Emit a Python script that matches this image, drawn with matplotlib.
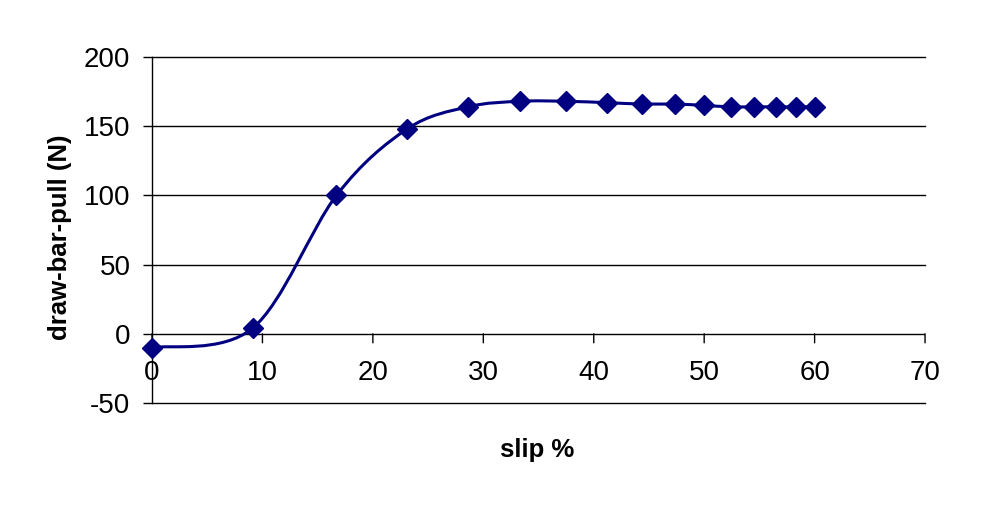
import numpy as np
import matplotlib
matplotlib.use("Agg")
import matplotlib.pyplot as plt
from matplotlib.path import Path
from matplotlib.patches import PathPatch

slip = [0, 9.1, 16.7, 23.1, 28.6, 33.3, 37.5, 41.2, 44.4, 47.4, 50.0, 52.4, 54.5, 56.5, 58.3, 60.0]
pull = [-10, 4, 100, 148, 164, 168, 168, 167, 166, 166, 165, 164, 164, 164, 164, 164]
xticks = [0, 10, 20, 30, 40, 50, 60, 70]
yticks = [-50, 0, 50, 100, 150, 200]

plt.rcParams['font.family'] = ['Liberation Sans', 'DejaVu Sans']
color = '#000080'
fs = 20

fig = plt.figure(figsize=(9.82, 5.09), dpi=100)
ax = fig.add_axes([0.1548, 0.2083, 0.942 - 0.1548, 0.888 - 0.2083])
ax.set_xlim(0, 70)
ax.set_ylim(-50, 200)

# Excel-style smoothed line (Catmull-Rom Bezier)
P = np.column_stack([slip, pull]).astype(float)
n = len(P)
verts = [tuple(P[0])]
codes = [Path.MOVETO]
for i in range(n - 1):
    p0 = P[i - 1] if i > 0 else P[i]
    p1 = P[i]
    p2 = P[i + 1]
    p3 = P[i + 2] if i + 2 < n else P[i + 1]
    c1 = p1 + (p2 - p0) / 6.0
    c2 = p2 - (p3 - p1) / 6.0
    verts += [tuple(c1), tuple(c2), tuple(p2)]
    codes += [Path.CURVE4] * 3
ax.add_patch(PathPatch(Path(verts, codes), facecolor='none', edgecolor=color, lw=2.2, zorder=3))
ax.plot(slip, pull, linestyle='none', marker='D', markersize=10, color=color, zorder=4, clip_on=False)

# gridlines
for yv in yticks:
    if yv != 0:
        ax.axhline(yv, color='black', lw=1.0, zorder=1, clip_on=False)

for s in ['top', 'right', 'bottom']:
    ax.spines[s].set_visible(False)
ax.spines['left'].set_linewidth(1.0)
ax.axhline(0, color='black', lw=1.0, zorder=2)

ax.set_yticks(yticks)
ax.set_yticklabels([str(v) for v in yticks], fontsize=fs)
ax.tick_params(axis='y', direction='out', length=6.5, width=1.0, pad=9)

ax.set_xticks(xticks)
ax.tick_params(axis='x', length=0)
ax.set_xticklabels([])
for xv in xticks:
    ax.annotate('', xy=(xv, 0), xytext=(0, -6.5), textcoords='offset points',
                arrowprops=dict(arrowstyle='-', color='black', lw=1.0, shrinkA=0, shrinkB=0))
    ax.annotate(str(xv), xy=(xv, 0), xytext=(0, -28), textcoords='offset points',
                ha='center', va='center', fontsize=fs)

fig.text(60 / 982, 1 - 237 / 509, 'draw-bar-pull (N)', fontsize=18.5, fontweight='bold',
         ha='center', va='center', rotation=90)
fig.text(537 / 982, 1 - 450 / 509, 'slip %', fontsize=18.5, fontweight='bold', ha='center', va='center')

fig.savefig('out.png', dpi=100)
